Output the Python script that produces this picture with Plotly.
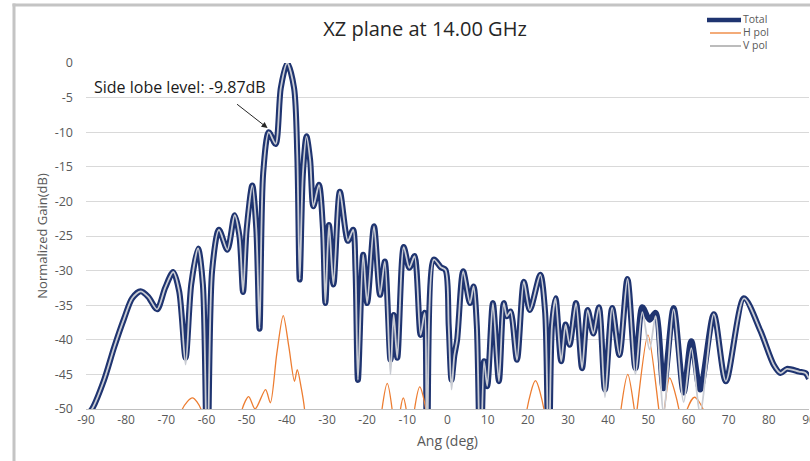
import plotly.graph_objects as go

# ---- data ----
total_ang = [-90, -88.5, -85.5, -83, -80.5, -78.5, -76.4, -74.5, -72.3, -70.3, -68.3, -66.8, -65.2, -63.8,
             -62.1, -60.9, -59.8, -58.6, -56.9, -54.8, -53.0, -51.8, -50.9, -50.0, -48.6, -47.6, -46.8,
             -45.9, -44.5, -42.8, -41.5, -39.9, -38.2, -37.4, -36.8, -36.0, -35.1, -34.2, -33.4, -32.0,
             -31.0, -30.4, -29.5, -28.4, -26.8, -24.8, -23.5, -22.9, -22.3, -21.0, -20.0, -18.3, -16.8,
             -15.6, -14.2, -13.4, -12.5, -10.9, -9.5, -8.2, -6.7, -5.7, -5.1, -3.4, -1.7, -0.5, 0.3, 1.0,
             1.7, 2.4, 3.9, 5.6, 6.5, 7.3, 8.2, 9.1, 9.9, 11.3, 12.8, 14.0, 14.8, 15.7, 17.3, 19.0, 20.5,
             23.1, 24.3, 25.2, 26.0, 26.9, 28.3, 29.4, 30.4, 32.0, 33.5, 34.9, 36.3, 37.7, 39.2, 41.0,
             42.8, 44.8, 46.8, 48.5, 50.3, 51.8, 53.8, 56.3, 58.8, 60.7, 62.9, 66.3, 69.3, 73.8, 77.9,
             81.2, 82.9, 84.5, 87.5, 89.1, 90]
total_db = [-51, -50, -45.8, -41.1, -36.9, -34.0, -33.0, -33.8, -35.6, -32.5, -30.2, -33.0, -42.6, -32.0,
            -26.8, -32.0, -60, -30.0, -24.1, -27.0, -22.0, -25.0, -33.1, -24.0, -17.7, -24.0, -38.4,
            -16.0, -10.0, -11.7, -3.6, 0.0, -3.6, -13.3, -31.3, -16.0, -10.6, -14.0, -20.7, -17.6,
            -24.0, -34.7, -23.4, -32.0, -18.6, -25.7, -24.1, -30.0, -45.8, -27.7, -34.7, -23.6, -33.5,
            -28.7, -42.9, -36.4, -42.6, -26.6, -29.6, -27.9, -39.3, -36.1, -60, -28.4, -29.5, -29.9, -38.0, -45.8,
            -42.3, -40.0, -30.1, -34.7, -32.3, -38.0, -60, -43.1, -46.7, -34.7, -46.0, -34.7, -36.6, -35.9, -42.9, -31.6, -35.7,
            -30.6, -36.0, -60, -38.0, -34.0, -43.1, -37.8, -40.7, -34.7, -44.1, -35.7, -39.1, -35.3, -47.2, -35.4,
            -42.2, -31.2, -44.1, -35.3, -37.1, -36.1, -47.0, -35.4, -47.6, -40.2, -47.2, -36.3, -46.0, -34.0, -38.7,
            -43.6, -44.8, -44.2, -44.6, -44.8, -45.6]

vpol_ang = total_ang
vpol_db = [-51, -50, -45.8, -41.1, -36.9, -34.0, -33.0, -33.8, -35.6, -32.5, -30.2, -33.0, -43.6, -32.0,
           -26.8, -32.0, -60, -30.0, -24.1, -27.0, -22.0, -25.0, -33.1, -24.0, -17.7, -24.0, -38.4,
           -16.0, -10.0, -11.7, -3.6, 0.0, -3.6, -13.3, -31.3, -16.0, -10.6, -14.0, -20.7, -17.6,
           -24.0, -34.7, -23.4, -32.0, -18.6, -25.7, -24.1, -30.0, -45.8, -27.7, -34.7, -23.6, -33.5,
           -28.7, -45.0, -36.4, -42.6, -26.6, -29.6, -27.9, -39.3, -36.1, -60, -28.4, -29.5, -29.9, -38.0, -47.2,
           -42.3, -40.0, -30.1, -34.7, -32.3, -38.0, -60, -43.1, -46.7, -34.7, -46.0, -34.7, -36.6, -35.9, -42.9, -31.6, -35.7,
           -30.6, -36.0, -60, -38.0, -34.0, -43.1, -37.8, -40.7, -34.7, -44.1, -35.7, -39.1, -35.3, -48.3, -35.4,
           -42.2, -31.2, -45.0, -36.0, -41.4, -36.6, -50.5, -35.6, -49.0, -41.2, -50.5, -36.3, -46.0, -34.0, -38.7,
           -43.6, -44.8, -44.2, -44.6, -44.8, -45.6]

hpol_ang = [-90, -66.6, -66.0, -63.5, -61.4, -60.8, -52.0, -51.1, -49.5, -47.9, -45.3, -44.1, -42.5,
            -40.9, -39.5, -38.1, -37.4, -36.4, -35.6, -35.0, -17.0, -16.3, -15.0, -13.8, -13.2, -12.3,
            -11.7, -11.0, -10.3, -9.6, -8.9, -8.2, -6.9, -5.4, -4.8, 19.1, 19.8, 21.9, 24.0, 24.7,
            42.5, 43.2, 44.9, 46.5, 46.85, 47.2, 49.9, 52.6, 53.3, 54.0, 55.3, 57.6, 58.4, 59.7, 61.5,
            63.6, 64.4, 90]
hpol_db = [-60, -55, -50, -48.4, -50, -55, -55, -50, -48.2, -50, -47.2, -49.1, -42.0,
           -36.5, -41.0, -46.0, -44.3, -47.0, -50, -55, -55, -50, -46.3, -50, -55, -55,
           -50, -48.4, -50, -55, -55, -50, -46.8, -50, -55, -55, -50, -45.9, -50, -55,
           -55, -50, -45.0, -50, -51.5, -50, -39.3, -50, -53, -50, -45.5, -50, -55, -50, -48.3,
           -50, -55, -60]

series_names = ['Total', 'H pol', 'V pol']
x_ticks = list(range(-90, 91, 10))
y_ticks = list(range(-50, 1, 5))

# ---- geometry helpers (pixel -> paper) ----
L, R, T, B = 86, 1, 63, 52
W, H = 810, 461
pw, ph = W - L - R, H - T - B

def px(x):
    return (x - L) / pw

def py(y):
    return (H - B - y) / ph

navy = '#1f3470'
orange = '#ed7d31'
vgray = '#c9ccd3'
font_family = '"Open Sans", Lato, sans-serif'

fig = go.Figure()
fig.add_trace(go.Scatter(x=total_ang, y=total_db, name=series_names[0], mode='lines',
                         line=dict(color=navy, width=6, shape='spline', smoothing=0.8)))
fig.add_trace(go.Scatter(x=hpol_ang, y=hpol_db, name=series_names[1], mode='lines',
                         line=dict(color=orange, width=1.3, shape='spline', smoothing=0.8)))
fig.add_trace(go.Scatter(x=vpol_ang, y=vpol_db, name=series_names[2], mode='lines',
                         line=dict(color=vgray, width=1.8, shape='spline', smoothing=0.8)))

fig.update_layout(
    width=W, height=H,
    margin=dict(l=L, r=R, t=T, b=B, autoexpand=False),
    paper_bgcolor='white', plot_bgcolor='white',
    font=dict(family=font_family, color='#595959', size=12),
    title=dict(text='XZ plane at 14.00 GHz', x=425 / W, xref='container', xanchor='center',
               y=1 - 29 / H, yref='container', yanchor='middle',
               font=dict(size=20, color='#262626', family=font_family)),
    showlegend=False,
    xaxis=dict(range=[-90, 90], tickvals=x_ticks, ticktext=[str(v) for v in x_ticks],
               showgrid=False, zeroline=False, showline=True, linecolor='#bfbfbf', linewidth=1,
               ticks='', tickfont=dict(size=12, color='#595959'), ticklabeloverflow='allow',
               title=dict(text='Ang (deg)', font=dict(size=14, color='#595959'), standoff=8)),
    yaxis=dict(range=[-50, 0], tickvals=y_ticks, ticktext=[str(v) for v in y_ticks],
               showgrid=True, gridcolor='#d9d9d9', gridwidth=1, zeroline=False, showline=False,
               ticks='', ticklabelstandoff=12, tickfont=dict(size=12.5, color='#595959'),
               title=dict(text='Normalized Gain(dB)', font=dict(size=13, color='#595959'), standoff=4)),
)

# legend (compact, as in the original chart)
legend_y = [20, 33, 46]
legend_style = [(navy, 4.5, 707), (orange, 1.3, 710), ('#a6a6a6', 1.5, 710)]
for name, yy, (col, wd, x0) in zip(series_names, legend_y, legend_style):
    fig.add_shape(type='line', xref='paper', yref='paper', x0=px(x0), x1=px(741), y0=py(yy), y1=py(yy),
                  line=dict(color=col, width=wd))
    fig.add_annotation(xref='paper', yref='paper', x=px(742), y=py(yy - 0.5), text=name, showarrow=False,
                       xanchor='left', yanchor='middle', borderpad=0,
                       font=dict(size=10.5, color='#595959'))

# outer frame of the chart area (gray border at top and left)
fig.add_shape(type='rect', xref='paper', yref='paper', x0=px(12.5), x1=px(812), y0=py(3.5), y1=py(6.5),
              line=dict(width=0), fillcolor='#c4c4c4')
fig.add_shape(type='rect', xref='paper', yref='paper', x0=px(12.5), x1=px(15.5), y0=py(3.5), y1=py(462),
              line=dict(width=0), fillcolor='#c4c4c4')

# side lobe annotation
fig.add_annotation(x=-66.6, y=-3.4, text='Side lobe level: -9.87dB', showarrow=False,
                   xanchor='center', yanchor='middle', font=dict(size=16, color='#1a1a1a', family=font_family))
fig.add_annotation(x=-44.8, y=-9.4, text='', showarrow=True, arrowhead=2, arrowsize=1.2, arrowwidth=1,
                   arrowcolor='#262626', ax=-32, ay=-25, standoff=0)

fig.write_html('out.html', config={'displayModeBar': False},
               post_script="document.body.style.margin='0';document.body.style.overflow='hidden';")
